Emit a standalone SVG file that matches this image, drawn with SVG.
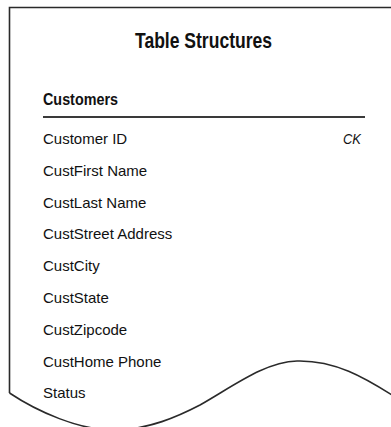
<svg xmlns="http://www.w3.org/2000/svg" width="391" height="427" viewBox="0 0 391 427">
<style>
.f{fill:none;stroke:#2a2a2a;stroke-width:1.6}
.t{font-family:"Liberation Sans",Arial,sans-serif;fill:#111}
.row{font-size:15px}
.b{font-weight:bold}
</style>
<rect width="391" height="427" fill="#fff"/>
<g id="frame">
<path class="f" d="M391,7.5 H9.5 V393"/>
<path class="f" stroke-width="1.3" d="M9.5,393 C35,410 80,432 120,430 C150,428 175,418 200,405 C235,385 265,362 297,361 C335,360 365,378 392,395"/>
</g>
<g id="title"><text class="t b" x="203.5" y="47.5" font-size="22" text-anchor="middle" textLength="137" lengthAdjust="spacingAndGlyphs">Table Structures</text></g>
<g id="customers">
<text class="t b" x="43" y="105" font-size="16.5" textLength="75" lengthAdjust="spacingAndGlyphs">Customers</text>
<line x1="43" y1="117" x2="365" y2="117" stroke="#3a3a3a" stroke-width="2"/>
<g class="t row">
<text x="43" y="144">Customer ID</text>
<text x="343" y="144" font-style="italic" textLength="18" lengthAdjust="spacingAndGlyphs">CK</text>
<text x="43" y="175.8">CustFirst Name</text>
<text x="43" y="207.6">CustLast Name</text>
<text x="43" y="239.4">CustStreet Address</text>
<text x="43" y="271.2">CustCity</text>
<text x="43" y="303">CustState</text>
<text x="43" y="334.8">CustZipcode</text>
<text x="43" y="366.6">CustHome Phone</text>
<text x="43" y="398.4">Status</text>
</g>
</g>
</svg>
